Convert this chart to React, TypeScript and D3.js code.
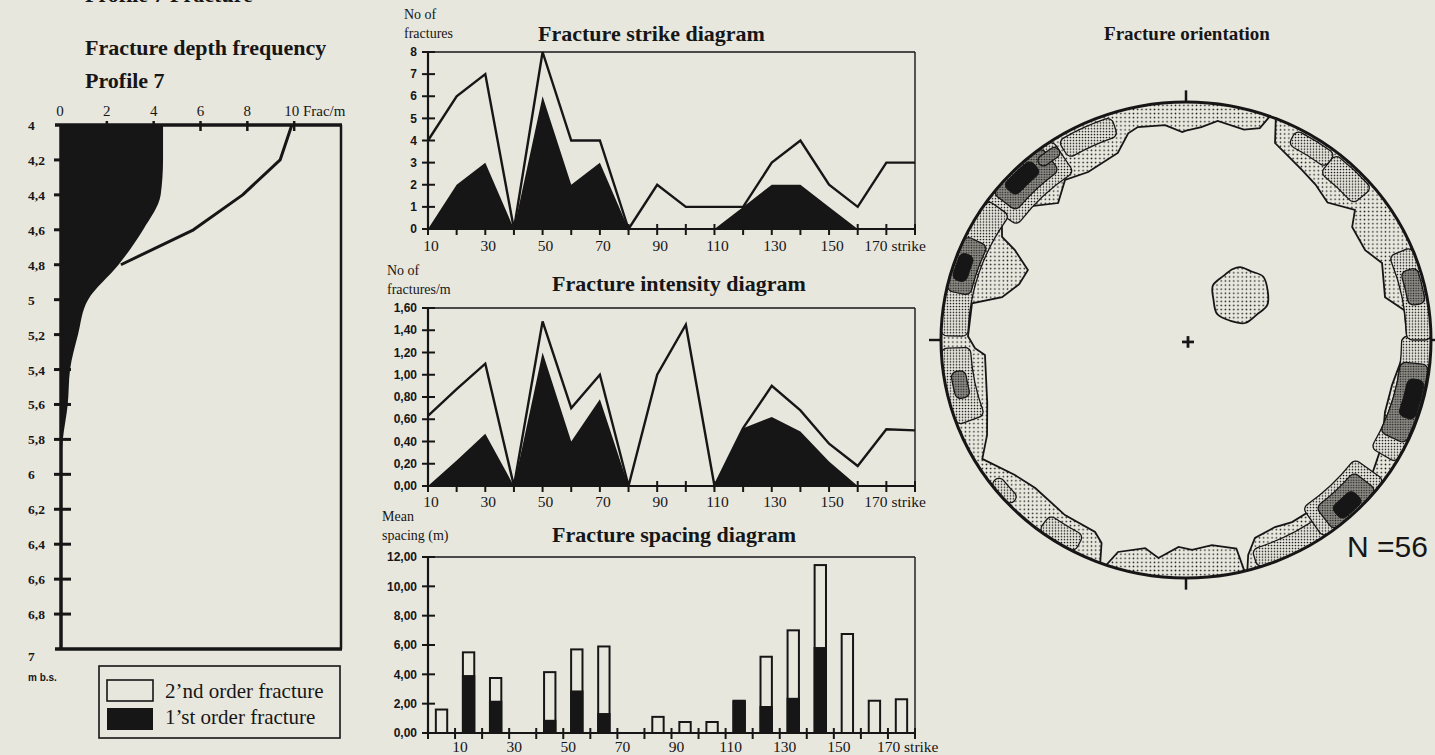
import * as d3 from 'd3';

const PAPER = '#e8e7de';
const INK = '#161616';
const SERIF = '"Liberation Serif", "Times New Roman", serif';
const SANS = '"Liberation Sans", Arial, sans-serif';

// ---- fracture depth frequency, profile 7 (frac/m against depth m b.s.)
const depthSteps = [4, 4.2, 4.4, 4.6, 4.8, 5, 5.2, 5.4, 5.6, 5.8, 6];
const firstOrderFreq = [4.4, 4.4, 4.3, 3.55, 2.5, 1.2, 0.77, 0.43, 0.33, 0.12, 0];
const totalFreq = [9.9, 9.4, 7.8, 5.7, 2.6, 1.2, 0.77, 0.43, 0.33, 0.12, 0];
const depthTicks = [4, 4.2, 4.4, 4.6, 4.8, 5, 5.2, 5.4, 5.6, 5.8, 6, 6.2, 6.4, 6.6, 6.8, 7];
const depthTickLabels = ['4', '4,2', '4,4', '4,6', '4,8', '5', '5,2', '5,4', '5,6', '5,8', '6', '6,2', '6,4', '6,6', '6,8', '7'];
const freqTicks = [0, 2, 4, 6, 8, 10];

// ---- strike classes (deg)
const strikeClasses = [10, 20, 30, 40, 50, 60, 70, 80, 90, 100, 110, 120, 130, 140, 150, 160, 170, 180];
const strikeLabels = [10, 30, 50, 70, 90, 110, 130, 150, 170];
const strikeCountAll = [4, 6, 7, 0, 8, 4, 4, 0, 2, 1, 1, 1, 3, 4, 2, 1, 3, 3];
const strikeCountFirst = [0, 2, 3, 0, 6, 2, 3, 0, 0, 0, 0, 1, 2, 2, 1, 0, 0, 0];
const countTicks = [0, 1, 2, 3, 4, 5, 6, 7, 8];

const intensityAll = [0.63, 0.87, 1.1, 0, 1.48, 0.7, 1.0, 0, 1.0, 1.45, 0, 0.52, 0.9, 0.68, 0.38, 0.18, 0.51, 0.5];
const intensityFirst = [0, 0.23, 0.47, 0, 1.2, 0.4, 0.78, 0, 0, 0, 0, 0.52, 0.62, 0.49, 0.22, 0, 0, 0];
const intensityTicks = [0, 0.2, 0.4, 0.6, 0.8, 1.0, 1.2, 1.4, 1.6];

// spacing bins start at 0,10,...,170
const spacingBins = [0, 10, 20, 30, 40, 50, 60, 70, 80, 90, 100, 110, 120, 130, 140, 150, 160, 170];
const spacingAll = [1.6, 5.5, 3.75, 0, 4.15, 5.7, 5.9, 0, 1.1, 0.75, 0.75, 2.2, 5.2, 7.0, 11.45, 6.75, 2.2, 2.3];
const spacingFirst = [0, 3.95, 2.2, 0, 0.9, 2.9, 1.36, 0, 0, 0, 0, 2.2, 1.84, 2.4, 5.86, 0, 0, 0];
const spacingTicks = [0, 2, 4, 6, 8, 10, 12];
const spacingTickMarks = [0, 10, 20, 30, 40, 50, 60, 70, 80, 90, 100, 110, 120, 130, 140, 150, 160, 170, 180];

// ---- stereonet: [azimuth deg, radius fraction] of the outer (lowest) contour
const rimContour: [number, number][] = [
  [0, 0.88], [4, 0.897], [8, 0.93], [15, 0.915], [18.7, 0.94], [20, 1], [21.5, 1], [23.7, 0.904],
  [28, 0.88], [33.5, 0.857], [39, 0.84], [45, 0.817], [51.6, 0.88], [55, 0.828], [62.7, 0.823],
  [68, 0.863], [77.5, 0.832], [82, 0.9], [89, 0.902], [95, 0.885], [102.7, 0.862], [110.5, 0.867],
  [118.9, 0.914], [126.8, 0.947], [133.7, 0.881], [140.2, 0.885], [150.5, 0.879], [155.2, 0.866],
  [161.3, 0.878], [164.3, 0.938], [165.5, 1], [166.2, 1], [166.8, 0.9], [173, 0.868], [178.4, 0.882],
  [182, 0.87], [187, 0.923], [190.8, 0.89], [197.3, 0.933], [199, 1], [200.5, 1], [202, 0.92],
  [204.7, 0.888], [213.9, 0.886], [224.7, 0.875], [230.9, 0.9], [239, 0.97], [243.8, 0.905],
  [252, 0.853], [265.6, 0.823], [267.7, 0.862], [271, 0.89], [280, 0.887], [283.5, 0.772],
  [289, 0.72], [294.5, 0.709], [298.4, 0.794], [300, 0.867], [304.5, 0.912], [310.4, 0.863],
  [317.8, 0.777], [323.7, 0.834], [330.5, 0.811], [340.5, 0.834], [344.8, 0.9], [347.6, 0.916],
  [354.6, 0.907], [359, 0.874],
];
// [from az, to az, inner, outer]
const secondContour: [number, number, number, number][] = [
  [328, 342, 0.9, 0.985], [305, 327, 0.84, 1], [271, 306, 0.89, 1], [249, 268, 0.88, 1],
  [226, 233, 0.95, 1], [207, 217, 0.92, 1], [142, 163, 0.92, 1], [126, 146, 0.85, 1],
  [89, 121, 0.88, 1], [67, 90, 0.9, 1], [38, 50, 0.89, 0.99], [27, 38, 0.92, 0.99],
];
const thirdContour: [number, number, number, number][] = [
  [308, 324, 0.88, 1], [321, 327, 0.93, 0.975], [282, 296, 0.9, 1], [255, 262, 0.91, 0.97],
  [96, 116, 0.88, 0.995], [72, 81, 0.92, 0.99], [129, 143, 0.88, 1],
];
const fourthContour: [number, number, number, number][] = [
  [311, 320, 0.92, 0.99], [285, 292, 0.93, 0.99], [100, 110, 0.92, 0.99], [133, 140, 0.92, 0.99],
];
const clusterCentre: [number, number] = [49.6, 0.29];
const clusterOutline: [number, number][] = [
  [0, 29], [25, 27], [50, 30], [80, 28], [110, 29], [140, 26], [170, 29], [200, 28], [230, 30],
  [260, 27], [290, 29], [320, 26], [345, 28],
];

const comma = (f: string) => (v: number) => d3.format(f)(v).replace('.', ',');

function DepthChart() {
  const x = d3.scaleLinear().domain([0, 12]).range([60, 341]);
  const y = d3.scaleLinear().domain([4, 7]).range([125, 649]);
  const pts = depthSteps.map((d, i) => ({ d, first: firstOrderFreq[i], all: totalFreq[i] }));
  const area = d3.area<any>().y(p => y(p.d)).x0(x(0)).x1(p => x(p.first)).curve(d3.curveMonotoneY)(pts);
  const line = d3.line<any>().x(p => x(p.all)).y(p => y(p.d))(pts.filter(p => p.d <= 4.8));
  return (
    <g>
      <text x={85} y={2} fontFamily={SERIF} fontWeight="bold" fontSize={22} fill={INK}>Profile 7 Fracture</text>
      <text x={85} y={55} fontFamily={SERIF} fontWeight="bold" fontSize={22} fill={INK}>Fracture depth frequency</text>
      <text x={85} y={88} fontFamily={SERIF} fontWeight="bold" fontSize={22} fill={INK}>Profile 7</text>
      <path d={area!} fill={INK} />
      <path d={line!} fill="none" stroke={INK} strokeWidth={3} strokeLinejoin="round" />
      <line x1={55} x2={342} y1={125} y2={125} stroke={INK} strokeWidth={3.5} />
      <line x1={55} x2={342} y1={649} y2={649} stroke={INK} strokeWidth={3.5} />
      <line x1={61} x2={61} y1={125} y2={649} stroke={INK} strokeWidth={3.5} />
      <line x1={341} x2={341} y1={125} y2={649} stroke={INK} strokeWidth={2.5} />
      {freqTicks.slice(1).map(t => (
        <line key={t} x1={x(t)} x2={x(t)} y1={121} y2={131} stroke={INK} strokeWidth={2.5} />
      ))}
      {freqTicks.map(t => (
        <text key={t} x={t === 10 ? x(t) - 10 : x(t)} y={116} textAnchor={t === 10 ? 'start' : 'middle'}
          fontFamily={SERIF} fontSize={15} fill={INK}>{t === 10 ? '10 Frac/m' : t}</text>
      ))}
      {depthTicks.slice(1, -1).map(t => (
        <line key={t} x1={54} x2={71} y1={y(t)} y2={y(t)} stroke={INK} strokeWidth={3} />
      ))}
      {depthTicks.map((t, i) => (
        <text key={t} x={28} y={y(t) + (i === depthTicks.length - 1 ? 12 : 5)} fontFamily={SERIF}
          fontWeight="bold" fontSize={13.5} fill={INK}>{depthTickLabels[i]}</text>
      ))}
      <text x={28} y={681} fontFamily={SANS} fontWeight="bold" fontSize={10} fill={INK}>m b.s.</text>
      <rect x={99} y={666} width={241} height={72} fill="none" stroke={INK} strokeWidth={1.6} />
      <rect x={107} y={680} width={46} height={21} fill={PAPER} stroke={INK} strokeWidth={1.6} />
      <rect x={107} y={708} width={46} height={22} fill={INK} />
      <text x={165} y={698} fontFamily={SERIF} fontSize={21} fill={INK}>2’nd order fracture</text>
      <text x={165} y={724} fontFamily={SERIF} fontSize={21} fill={INK}>1’st order fracture</text>
    </g>
  );
}

type ProfileProps = {
  top: number; bottom: number; max: number; ticks: number[]; fmt: (v: number) => string;
  all: number[]; first: number[]; title: string; titleX: number; titleY: number;
  unit: string[]; unitX: number; unitY: number; labelY: number;
};

function ProfileChart(p: ProfileProps) {
  const x = d3.scaleLinear().domain([10, 180]).range([428, 915]);
  const y = d3.scaleLinear().domain([0, p.max]).range([p.bottom, p.top]);
  const area = d3.area<number>().x((_, i) => x(strikeClasses[i])).y0(y(0)).y1(d => y(d))(p.first);
  const line = d3.line<number>().x((_, i) => x(strikeClasses[i])).y(d => y(d))(p.all);
  return (
    <g>
      <text x={p.unitX} y={p.unitY} fontFamily={SERIF} fontSize={14} fill={INK}>{p.unit[0]}</text>
      <text x={p.unitX} y={p.unitY + 19} fontFamily={SERIF} fontSize={14} fill={INK}>{p.unit[1]}</text>
      <text x={p.titleX} y={p.titleY} fontFamily={SERIF} fontWeight="bold" fontSize={22} fill={INK}>{p.title}</text>
      <path d={area!} fill={INK} />
      <path d={line!} fill="none" stroke={INK} strokeWidth={2.4} strokeLinejoin="miter" />
      <line x1={428} x2={915} y1={p.top} y2={p.top} stroke={INK} strokeWidth={1.4} />
      <line x1={915} x2={915} y1={p.top} y2={p.bottom} stroke={INK} strokeWidth={1.4} />
      <line x1={428} x2={428} y1={p.top} y2={p.bottom} stroke={INK} strokeWidth={2.2} />
      <line x1={426} x2={916} y1={p.bottom} y2={p.bottom} stroke={INK} strokeWidth={2.2} />
      {p.ticks.map(t => (
        <g key={t}>
          <line x1={422} x2={435} y1={y(t)} y2={y(t)} stroke={INK} strokeWidth={2} />
          <text x={417} y={y(t)} dy="0.35em" textAnchor="end" fontFamily={SANS} fontWeight="bold"
            fontSize={12} fill={INK}>{p.fmt(t)}</text>
        </g>
      ))}
      {strikeClasses.map(s => (
        <line key={s} x1={x(s)} x2={x(s)} y1={p.bottom - 5} y2={p.bottom + 6} stroke={INK} strokeWidth={2} />
      ))}
      {strikeLabels.map(s => (
        <text key={s} x={s === 170 ? x(s) - 22 : x(s) + 3} y={p.labelY} textAnchor={s === 170 ? 'start' : 'middle'}
          fontFamily={SERIF} fontSize={15.5} fill={INK}>{s === 170 ? '170 strike' : s}</text>
      ))}
    </g>
  );
}

function SpacingChart() {
  const x = d3.scaleLinear().domain([0, 180]).range([428, 915]);
  const band = d3.scaleBand<number>().domain(spacingBins).range([428, 915]).paddingInner(0.58).paddingOuter(0.29);
  const y = d3.scaleLinear().domain([0, 12]).range([733, 557]);
  const fmt = comma('.2f');
  return (
    <g>
      <text x={382} y={521} fontFamily={SERIF} fontSize={14} fill={INK}>Mean</text>
      <text x={382} y={540} fontFamily={SERIF} fontSize={14} fill={INK}>spacing (m)</text>
      <text x={552} y={542} fontFamily={SERIF} fontWeight="bold" fontSize={22} fill={INK}>Fracture spacing diagram</text>
      <line x1={428} x2={915} y1={557} y2={557} stroke={INK} strokeWidth={1.4} />
      <line x1={915} x2={915} y1={557} y2={733} stroke={INK} strokeWidth={1.4} />
      <line x1={428} x2={428} y1={557} y2={733} stroke={INK} strokeWidth={2.2} />
      {spacingBins.map((b, i) => spacingAll[i] > 0 && (
        <g key={b}>
          <rect x={band(b)} y={y(spacingAll[i])} width={band.bandwidth()} height={y(0) - y(spacingAll[i])}
            fill={PAPER} stroke={INK} strokeWidth={2} />
          {spacingFirst[i] > 0 && (
            <rect x={band(b)! - 1} y={y(spacingFirst[i])} width={band.bandwidth() + 2}
              height={y(0) - y(spacingFirst[i])} fill={INK} />
          )}
        </g>
      ))}
      <line x1={426} x2={916} y1={733} y2={733} stroke={INK} strokeWidth={2.2} />
      {spacingTicks.map(t => (
        <g key={t}>
          <line x1={422} x2={435} y1={y(t)} y2={y(t)} stroke={INK} strokeWidth={2} />
          <text x={417} y={y(t)} dy="0.35em" textAnchor="end" fontFamily={SANS} fontWeight="bold"
            fontSize={12} fill={INK}>{fmt(t)}</text>
        </g>
      ))}
      {spacingTickMarks.map(s => (
        <line key={s} x1={x(s)} x2={x(s)} y1={728} y2={739} stroke={INK} strokeWidth={2} />
      ))}
      {strikeLabels.map(s => (
        <text key={s} x={s === 170 ? x(s) - 11 : x(s) + 5} y={752} textAnchor={s === 170 ? 'start' : 'middle'}
          fontFamily={SERIF} fontSize={15.5} fill={INK}>{s === 170 ? '170 strike' : s}</text>
      ))}
    </g>
  );
}

function Stereonet() {
  const R = 245;
  const rad = (deg: number) => (deg * Math.PI) / 180;
  const closed = [...rimContour, [rimContour[0][0] + 360, rimContour[0][1]] as [number, number]];
  const rimArea = d3.areaRadial<[number, number]>().angle(d => rad(d[0])).innerRadius(d => d[1] * R).outerRadius(R)(closed);
  const rimLine = d3.lineRadial<[number, number]>().angle(d => rad(d[0])).radius(d => d[1] * R)(closed);
  const arc = d3.arc<any>().cornerRadius(6);
  const patch = (c: [number, number, number, number]) =>
    arc({ startAngle: rad(c[0]), endAngle: rad(c[1]), innerRadius: c[2] * R, outerRadius: c[3] * R })!;
  const [ca, cr] = clusterCentre;
  const cx = Math.sin(rad(ca)) * cr * R;
  const cy = -Math.cos(rad(ca)) * cr * R;
  const blob = d3.lineRadial<[number, number]>().angle(d => rad(d[0])).radius(d => d[1]).curve(d3.curveCatmullRomClosed)(clusterOutline);
  return (
    <g>
      <defs>
        <pattern id="dotsSparse" width={4.2} height={4.2} patternUnits="userSpaceOnUse">
          <rect width={4.2} height={4.2} fill={PAPER} />
          <circle cx={2.1} cy={2.1} r={0.8} fill={INK} />
        </pattern>
        <pattern id="dotsDense" width={3} height={3} patternUnits="userSpaceOnUse">
          <rect width={3} height={3} fill={PAPER} />
          <circle cx={1.5} cy={1.5} r={0.85} fill={INK} />
        </pattern>
        <pattern id="dotsDark" width={2.6} height={2.6} patternUnits="userSpaceOnUse">
          <rect width={2.6} height={2.6} fill="#8d8c85" />
          <circle cx={1.3} cy={1.3} r={0.75} fill={INK} />
        </pattern>
      </defs>
      <text x={1187} y={40} textAnchor="middle" fontFamily={SERIF} fontWeight="bold" fontSize={19} fill={INK}>Fracture orientation</text>
      <g transform="translate(1186,340) scale(1,0.9714)">
        <path d={rimArea!} fill="url(#dotsSparse)" />
        <path d={rimLine!} fill="none" stroke={INK} strokeWidth={1.8} />
        {secondContour.map((c, i) => <path key={i} d={patch(c)} fill="url(#dotsDense)" stroke={INK} strokeWidth={1.3} />)}
        {thirdContour.map((c, i) => <path key={i} d={patch(c)} fill="url(#dotsDark)" stroke={INK} strokeWidth={1.3} />)}
        {fourthContour.map((c, i) => <path key={i} d={patch(c)} fill={INK} stroke={INK} strokeWidth={1} />)}
        <path d={blob!} transform={`translate(${cx},${cy})`} fill="url(#dotsSparse)" stroke={INK} strokeWidth={1.8} />
        <circle r={R} fill="none" stroke={INK} strokeWidth={3} />
        <line x1={0} x2={0} y1={-R} y2={-R - 12} stroke={INK} strokeWidth={2.5} />
        <line x1={0} x2={0} y1={R} y2={R + 12} stroke={INK} strokeWidth={2.5} />
        <line x1={-R} x2={-R - 12} y1={0} y2={0} stroke={INK} strokeWidth={2.5} />
        <line x1={R} x2={R + 8} y1={0} y2={0} stroke={INK} strokeWidth={2.5} />
        <line x1={-4} x2={8} y1={2} y2={2} stroke={INK} strokeWidth={2.8} />
        <line x1={2} x2={2} y1={-4} y2={8} stroke={INK} strokeWidth={2.8} />
      </g>
      <text x={1347} y={557} fontFamily={SANS} fontSize={30} fill={INK}>N =56</text>
    </g>
  );
}

export default function App() {
  return (
    <svg width={1435} height={755} style={{ position: 'absolute', left: 0, top: 0, display: 'block' }}>
      <rect width={1435} height={755} fill={PAPER} />
      <DepthChart />
      <ProfileChart top={52} bottom={229} max={8} ticks={countTicks} fmt={v => String(v)}
        all={strikeCountAll} first={strikeCountFirst} title="Fracture strike diagram" titleX={538} titleY={41}
        unit={['No of', 'fractures']} unitX={404} unitY={19} labelY={251} />
      <ProfileChart top={308} bottom={486} max={1.6} ticks={intensityTicks} fmt={comma('.2f')}
        all={intensityAll} first={intensityFirst} title="Fracture intensity diagram" titleX={552} titleY={291}
        unit={['No of', 'fractures/m']} unitX={387} unitY={275} labelY={507} />
      <SpacingChart />
      <Stereonet />
    </svg>
  );
}
